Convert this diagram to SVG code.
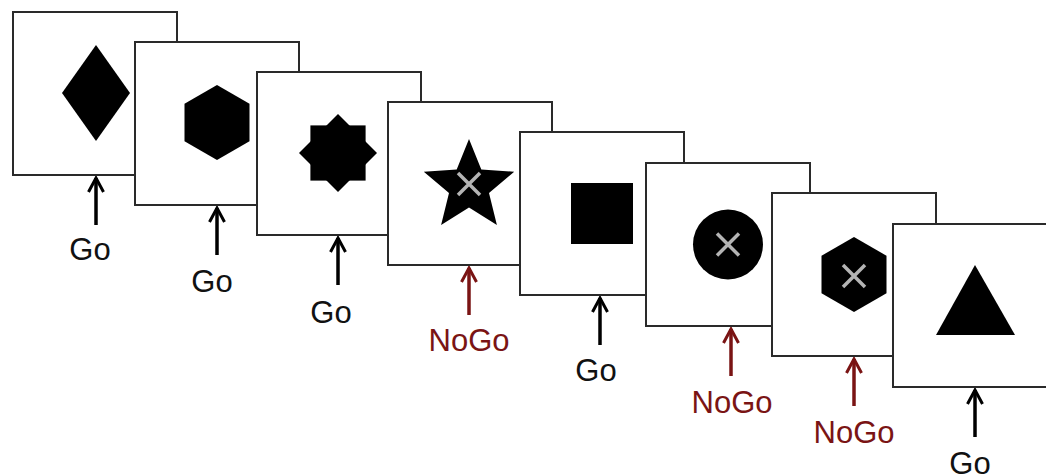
<svg xmlns="http://www.w3.org/2000/svg" width="1046" height="474" viewBox="0 0 1046 474">
<defs>
<style>
.card{fill:#fff;stroke:#2a2a2a;stroke-width:2}
.shape{fill:#000}
.x{stroke:#b4b4b4;stroke-width:3.5;fill:none}
.go{stroke:#000;stroke-width:3.5;fill:none}
.nogo{stroke:#7a1414;stroke-width:3.5;fill:none}
.lbl{font-family:"Liberation Sans",Arial,sans-serif;font-size:31px;text-anchor:middle}
.lgo{fill:#111}
.lnogo{fill:#7a1414}
</style>
<marker id="ahGo" viewBox="-18 -10 20 20" refX="0" refY="0" markerWidth="20" markerHeight="20" markerUnits="userSpaceOnUse" orient="auto">
<path d="M-14,-7.5 L0,0 L-14,7.5" fill="none" stroke="#000" stroke-width="3"/>
</marker>
<marker id="ahNo" viewBox="-18 -10 20 20" refX="0" refY="0" markerWidth="20" markerHeight="20" markerUnits="userSpaceOnUse" orient="auto">
<path d="M-14,-7.5 L0,0 L-14,7.5" fill="none" stroke="#7a1414" stroke-width="3"/>
</marker>
</defs>
<rect width="1046" height="474" fill="#fff"/>

<g id="card1">
<rect class="card" x="13" y="12" width="164" height="163"/>
<polygon class="shape" points="96,45 130,93 96,141 62,93"/>
</g>
<g id="card2">
<rect class="card" x="135" y="42" width="164" height="163"/>
<polygon class="shape" points="217,85 249.5,103.75 249.5,141.25 217,160 184.5,141.25 184.5,103.75"/>
</g>
<g id="card3">
<rect class="card" x="257" y="72" width="164" height="163"/>
<rect class="shape" x="310.4" y="125.4" width="55.2" height="55.2"/>
<polygon class="shape" points="338,114 377,153 338,192 299,153"/>
</g>
<g id="card4">
<rect class="card" x="388" y="102" width="164" height="163"/>
<polygon class="shape" points="469,139 481.3,169.5 514.2,171.8 489,193 496.9,224.9 469,207.5 441.1,224.9 449,193 423.8,171.8 456.7,169.5"/>
<path class="x" d="M458,173 L480,195 M480,173 L458,195"/>
</g>
<g id="card5">
<rect class="card" x="520" y="132" width="164" height="163"/>
<rect class="shape" x="571" y="183" width="62" height="61"/>
</g>
<g id="card6">
<rect class="card" x="646" y="163" width="164" height="163"/>
<circle class="shape" cx="728" cy="244.5" r="35"/>
<path class="x" d="M717,233.5 L739,255.5 M739,233.5 L717,255.5"/>
</g>
<g id="card7">
<rect class="card" x="772" y="193" width="164" height="163"/>
<polygon class="shape" points="854,237 886.5,255.75 886.5,293.25 854,312 821.5,293.25 821.5,255.75"/>
<path class="x" d="M843,265 L865,287 M865,265 L843,287"/>
</g>
<g id="card8">
<rect class="card" x="893" y="224" width="164" height="163"/>
<polygon class="shape" points="975,265 1015,335 936,335"/>
</g>

<g id="connectors">
<line class="go" x1="96" y1="225" x2="96" y2="178" marker-end="url(#ahGo)"/>
<line class="go" x1="217" y1="255" x2="217" y2="208" marker-end="url(#ahGo)"/>
<line class="go" x1="338" y1="285" x2="338" y2="238" marker-end="url(#ahGo)"/>
<line class="nogo" x1="469" y1="315" x2="469" y2="268" marker-end="url(#ahNo)"/>
<line class="go" x1="600" y1="345" x2="600" y2="298" marker-end="url(#ahGo)"/>
<line class="nogo" x1="731" y1="376" x2="731" y2="329" marker-end="url(#ahNo)"/>
<line class="nogo" x1="854" y1="406" x2="854" y2="359" marker-end="url(#ahNo)"/>
<line class="go" x1="975" y1="437" x2="975" y2="390" marker-end="url(#ahGo)"/>
</g>

<g id="labels">
<text class="lbl lgo" x="90" y="260">Go</text>
<text class="lbl lgo" x="212" y="292">Go</text>
<text class="lbl lgo" x="331" y="323">Go</text>
<text class="lbl lnogo" x="469" y="351">NoGo</text>
<text class="lbl lgo" x="596" y="381">Go</text>
<text class="lbl lnogo" x="732" y="413">NoGo</text>
<text class="lbl lnogo" x="854" y="443">NoGo</text>
<text class="lbl lgo" x="970" y="474">Go</text>
</g>
</svg>
